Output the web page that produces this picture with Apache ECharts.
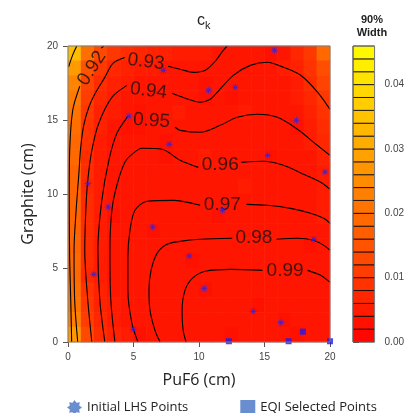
<!DOCTYPE html>
<html><head><meta charset="utf-8">
<script src="https://cdn.jsdelivr.net/npm/echarts@6/dist/echarts.min.js"></script>
<style>html,body{margin:0;padding:0;background:#fff}#c{width:407px;height:413px}</style>
</head><body><div id="c"></div>
<script>
// ---- data ----
// 90% width field (units of 0.001), rows from y=19..20 (top) down to y=0..1, columns x=0..20 in 1 cm cells
const widthGrid = [
 [34,20,13,10, 8, 7, 6, 6, 5, 5, 5, 4, 4, 4, 4, 3, 4, 7,10,19],
 [28,15,10, 7, 6, 5, 5, 4, 4, 4, 4, 4, 4, 4, 4, 4, 5, 6, 9,14],
 [24,12, 8, 6, 5, 4, 4, 4, 4, 4, 3, 4, 4, 4, 4, 4, 4, 5, 8,12],
 [22,11, 7, 5, 4, 4, 4, 4, 4, 4, 3, 4, 3, 4, 4, 4, 4, 5, 7,10],
 [21,10, 6, 5, 4, 3, 4, 4, 5, 4, 4, 4, 4, 5, 4, 4, 4, 4, 6, 9],
 [20, 9, 6, 4, 3, 3, 4, 4, 4, 4, 4, 4, 4, 4, 4, 4, 4, 3, 5, 8],
 [19, 9, 5, 4, 4, 4, 4, 3, 4, 4, 4, 4, 4, 4, 4, 4, 4, 4, 5, 7],
 [19, 8, 5, 4, 4, 4, 4, 3, 4, 4, 5, 4, 4, 4, 4, 3, 4, 4, 4, 6],
 [18, 8, 5, 4, 4, 4, 4, 4, 4, 4, 4, 4, 4, 4, 4, 4, 4, 4, 4, 5],
 [18, 7, 5, 4, 4, 4, 4, 4, 4, 4, 4, 4, 4, 5, 4, 4, 4, 4, 4, 5],
 [18, 8, 5, 4, 4, 4, 4, 4, 4, 4, 4, 4, 4, 4, 4, 4, 4, 4, 4, 5],
 [18, 8, 5, 3, 4, 4, 4, 4, 4, 4, 4, 3, 4, 4, 4, 4, 4, 4, 4, 5],
 [18, 8, 5, 4, 4, 4, 3, 4, 4, 4, 4, 4, 4, 4, 4, 4, 4, 4, 4, 4],
 [18, 8, 5, 4, 4, 4, 4, 4, 4, 4, 4, 4, 4, 4, 4, 4, 4, 4, 3, 4],
 [19, 8, 5, 4, 4, 4, 4, 4, 4, 3, 4, 4, 4, 4, 4, 4, 4, 4, 4, 4],
 [19, 7, 5, 4, 4, 4, 4, 4, 4, 4, 4, 4, 4, 4, 4, 4, 4, 4, 4, 4],
 [20, 9, 6, 4, 4, 4, 4, 4, 4, 4, 3, 4, 4, 4, 4, 4, 4, 4, 4, 4],
 [21,10, 6, 5, 4, 4, 4, 4, 4, 4, 4, 4, 4, 4, 3, 4, 4, 4, 4, 4],
 [23,11, 7, 5, 4, 4, 4, 4, 4, 4, 4, 4, 4, 4, 4, 4, 3, 4, 4, 4],
 [28,13, 8, 6, 5, 3, 4, 4, 4, 4, 4, 4, 3, 4, 4, 4, 4, 3, 4, 4]
];

// colour-bar band edges
const cbLevels = [0,0.002,0.004,0.006,0.008,0.010,0.012,0.014,0.016,0.018,0.020,0.022,0.024,0.026,0.028,0.030,0.032,0.034,0.036,0.038,0.040,0.042,0.044,0.046];
const cbTicks = [0,0.01,0.02,0.03,0.04];

// contour lines of c_k (two pieces each, broken where the label sits)
const c091  = [[0.67,20],[0.36,19.4],[0.05,18.6]];
const c092a = [[2.72,20],[2.55,19.85]];
const c092b = [[0.9,17.28],[0.36,15.66],[0.13,12.95],[0.09,9.57],[0.13,5.52],[0.21,2.82],[0.28,0]];
const c093a = [[7.64,18.63],[8.56,18.43],[9.56,18.22],[10.48,18.36],[11.24,18.97],[11.85,19.71],[12.16,20]];
const c093b = [[4.34,19.22],[3.43,18.83],[2.81,17.88],[2.12,16.87],[1.59,15.86],[1.2,14.64],[0.97,13.15],[0.82,11.26],[0.62,8.9],[0.46,6.2],[0.51,2.82],[0.74,0]];
const c094a = [[7.95,16.8],[8.94,16.47],[10.09,16.2],[10.86,16.4],[11.39,16.87],[12.62,18.02],[13.92,18.69],[15.22,18.9],[16.45,18.56],[17.76,18.02],[19.06,16.87],[20,15.72]];
const c094b = [[4.5,17.34],[3.35,16.53],[2.35,14.78],[1.82,12.95],[1.51,10.93],[1.36,8.9],[1.28,6.2],[1.51,2.82],[1.82,0]];
const c095a = [[8.18,14.51],[8.56,14.3],[10.09,14.17],[11.62,14.64],[12.92,15.18],[14.46,15.39],[15.99,15.18],[17.52,14.37],[18.75,13.49],[20,12.61]];
const c095b = [[4.57,15.25],[3.73,14.1],[3.12,12.28],[2.58,9.57],[2.28,6.2],[2.43,2.82],[2.81,0]];
const c096a = [[13.23,12.14],[14.92,12.21],[16.45,11.94],[17.98,11.33],[19.28,10.79],[20,10.32]];
const c096b = [[9.94,11.8],[8.56,12.28],[7.18,13.02],[5.65,13.09],[4.88,12.68],[4.34,12.14],[3.73,10.59],[3.35,8.9],[3.2,6.2],[3.27,2.82],[3.58,0]];
const c097a = [[13.62,9.3],[15.22,9.24],[16.99,9.03],[18.52,8.7],[19.52,8.36],[20,8.02]];
const c097b = [[10.09,9.24],[8.02,9.57],[6.03,9.51],[5.11,8.9],[4.73,7.55],[4.57,5.72],[4.57,3.49],[4.88,1.26],[5.34,0]];
const c098a = [[15.92,6.94],[17.52,7.01],[18.75,6.87],[19.52,6.53],[20,6.2]];
const c098b = [[12.54,7.01],[10.09,6.94],[8.56,6.8],[7.56,6.6],[6.8,5.99],[6.34,4.84],[6.18,3.49],[6.26,2.14],[6.64,0.79],[7.03,0]];
const c099a = [[18.29,4.84],[19.28,4.51],[20,4.03]];
const c099b = [[14.84,4.84],[12.39,4.91],[10.48,4.78],[9.49,4.3],[8.93,3.49],[8.71,2.14],[8.79,0.79],[9.02,0]];

const contourLabels = ['0.92','0.93','0.94','0.95','0.96','0.97','0.98','0.99'];
const labelX = [1.82,5.95,6.15,6.38,11.62,11.78,14.19,16.57];
const labelY = [18.49,18.93,16.97,14.95,11.97,9.24,7.01,4.84];
const labelAngle = [57,-7,-7,-4,0,0,0,0];

// sample points
const lhsX = [7.28,10.73,12.77,15.76,4.65,17.43,7.72,15.25,19.62,1.53,3.07,11.8,6.47,18.77,9.25,1.97,10.4,14.13,16.25,4.98];
const lhsY = [18.36,17.01,17.21,19.71,15.25,14.98,13.36,12.61,11.49,10.7,9.12,8.9,7.77,6.94,5.81,4.57,3.61,2.07,1.31,0.86];
const eqiX = [12.28,16.84,17.93,20];
const eqiY = [0.05,0.05,0.7,0.05];

// ---- chart ----
const WMAX = 0.046;
function heat(v){ const t=Math.max(0,Math.min(1,v/WMAX)); return 'rgb(255,'+Math.round(255*t)+',0)'; }

const cells = [];
widthGrid.forEach((row,r)=>row.forEach((v,c)=>cells.push([c,19-r,v/1000])));

const starPath = 'path://M20 10 L12.77 11.15 L17.07 17.07 L11.15 12.77 L10 20 L8.85 12.77 L2.93 17.07 L7.23 11.15 L0 10 L7.23 8.85 L2.93 2.93 L8.85 7.23 L10 0 L11.15 7.23 L17.07 2.93 L12.77 8.85 Z';
const legendStar = 'path://M20 10 L16.2 12.6 L17.07 17.07 L12.6 16.2 L10 20 L7.4 16.2 L2.93 17.07 L3.8 12.6 L0 10 L3.8 7.4 L2.93 2.93 L7.4 3.8 L10 0 L12.6 3.8 L17.07 2.93 L16.2 7.4 Z';

const lineStyle = {color:'#000', width:1.1};
function cline(d){ return {type:'line', xAxisIndex:0, yAxisIndex:0, data:d, symbol:'none', smooth:0.3, silent:true, lineStyle:lineStyle, z:3, animation:false}; }

const contours = [c091,c092a,c092b,c093a,c093b,c094a,c094b,c095a,c095b,c096a,c096b,c097a,c097b,c098a,c098b,c099a,c099b];

const labelData = contourLabels.map((t,i)=>({value:[labelX[i],labelY[i]], name:t, label:{rotate:labelAngle[i]}}));

const font = '"Liberation Sans", Arial, sans-serif';

const option = {
  backgroundColor:'#fff',
  animation:false,
  title:[
    {text:'c', left:192, top:8, textStyle:{fontSize:16, fontWeight:'normal', color:'#222', fontFamily:font}},
    {text:'k', left:200, top:15, textStyle:{fontSize:11, fontWeight:'normal', color:'#222', fontFamily:font}},
    {text:'90%\nWidth', left:367, top:8, textAlign:'center', textStyle:{fontSize:11, fontWeight:'bold', lineHeight:13, color:'#222', fontFamily:font}}
  ],
  legend:{
    data:[{name:'Initial LHS Points', icon:legendStar, itemStyle:{color:'#4472c4'}},
          {name:'EQI Selected Points', icon:'rect', itemStyle:{color:'#4472c4'}}],
    left:62, top:395, itemGap:52, itemWidth:15, itemHeight:15,
    textStyle:{fontSize:13, color:'#222', fontFamily:'"Open Sans", sans-serif'}
  },
  grid:[
    {left:68, top:46, width:262, height:296, show:true, borderColor:'#7f7f7f', borderWidth:1, backgroundColor:'transparent', z:10},
    {left:353, top:46, width:22, height:296, show:true, borderColor:'#7f7f7f', borderWidth:1, backgroundColor:'transparent', z:10}
  ],
  xAxis:[
    {gridIndex:0, type:'value', min:0, max:20, interval:5, axisLine:{show:false}, splitLine:{show:false},
     axisTick:{show:true, length:5, lineStyle:{color:'#555'}},
     axisLabel:{fontSize:10, color:'#444', margin:10, fontFamily:font},
     name:'PuF6 (cm)', nameLocation:'middle', nameGap:30, nameTextStyle:{fontSize:16, color:'#222', fontFamily:'"Open Sans", sans-serif'}},
    {gridIndex:1, type:'value', min:0, max:1, show:false}
  ],
  yAxis:[
    {gridIndex:0, type:'value', min:0, max:20, interval:5, axisLine:{show:false}, splitLine:{show:false},
     axisTick:{show:true, length:5, lineStyle:{color:'#555'}},
     axisLabel:{fontSize:10, color:'#444', margin:10, fontFamily:font},
     name:'Graphite (cm)', nameLocation:'middle', nameGap:28, nameTextStyle:{fontSize:16, color:'#222', fontFamily:'"Open Sans", sans-serif'}},
    {gridIndex:1, type:'value', min:0, max:WMAX, interval:0.01, position:'right', axisLine:{show:false}, splitLine:{show:false},
     axisTick:{show:true, length:6, lineStyle:{color:'#555'}, customValues:cbTicks},
     axisLabel:{fontSize:10, color:'#444', margin:10, fontFamily:font, customValues:cbTicks, formatter:v=>v.toFixed(2)}}
  ],
  series:[
    {type:'custom', xAxisIndex:0, yAxisIndex:0, data:cells, silent:true, z:1,
     renderItem:(p,api)=>{ const x=api.value(0), y=api.value(1), v=api.value(2);
       const a=api.coord([x,y+1]), b=api.coord([x+1,y]);
       return {type:'rect', shape:{x:a[0]-0.3, y:a[1]-0.3, width:b[0]-a[0]+0.6, height:b[1]-a[1]+0.6}, style:{fill:heat(v), stroke:null}}; }},
    ...contours.map(cline),
    {type:'scatter', xAxisIndex:0, yAxisIndex:0, data:labelData, symbolSize:0, silent:true, z:4,
     label:{show:true, position:'inside', formatter:p=>p.name, fontSize:19, color:'#111', fontFamily:font}},
    {name:'Initial LHS Points', type:'scatter', xAxisIndex:0, yAxisIndex:0, data:lhsX.map((x,i)=>[x,lhsY[i]]),
     symbol:starPath, symbolSize:9, itemStyle:{color:'#2424f0'}, z:5},
    {name:'EQI Selected Points', type:'scatter', xAxisIndex:0, yAxisIndex:0, data:eqiX.map((x,i)=>[x,eqiY[i]]),
     symbol:'rect', symbolSize:6, itemStyle:{color:'#1a1af5'}, z:5},
    {type:'custom', xAxisIndex:1, yAxisIndex:1, silent:true, z:2,
     data:cbLevels.slice(0,-1).map((lo,i)=>[lo,cbLevels[i+1]]),
     renderItem:(p,api)=>{ const lo=api.value(0), hi=api.value(1);
       const a=api.coord([0,hi]), b=api.coord([1,lo]);
       return {type:'rect', shape:{x:a[0], y:a[1], width:b[0]-a[0], height:b[1]-a[1]}, style:{fill:heat((lo+hi)/2), stroke:'#000', lineWidth:0.8}}; },
     encode:{x:-1, y:[0,1]}}
  ]
};
const chart = echarts.init(document.getElementById('c'), null, {renderer:'canvas'});
chart.setOption(option);
</script></body></html>
